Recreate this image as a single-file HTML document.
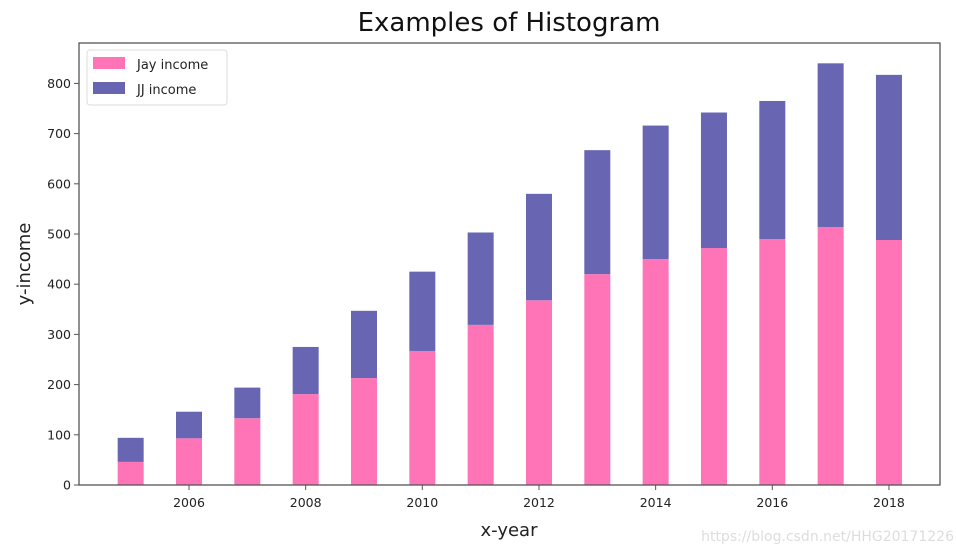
<!DOCTYPE html>
<html><head><meta charset="utf-8"><style>
body{margin:0;background:#fff;width:956px;height:552px;overflow:hidden;font-family:"DejaVu Sans","Liberation Sans",sans-serif}
</style></head><body>
<svg id="chart" width="956" height="552" xmlns="http://www.w3.org/2000/svg" font-family="DejaVu Sans, Liberation Sans, sans-serif">
<text x="509" y="31" font-size="26" text-anchor="middle" fill="#111">Examples of Histogram</text>
<text x="509" y="536" font-size="18" text-anchor="middle" fill="#222">x-year</text>
<text transform="translate(30,264) rotate(-90)" font-size="18" text-anchor="middle" fill="#222">y-income</text>
<g id="bars"></g>
<g id="axes"></g>
<g>
<rect x="87" y="50" width="140" height="55" rx="3" fill="#fff" stroke="#ddd"/>
<rect x="93" y="57" width="32" height="12" fill="#ff74b7"/>
<text x="137" y="69" font-size="13" fill="#222">Jay income</text>
<rect x="93" y="82" width="32" height="12" fill="#6865b3"/>
<text x="137" y="94" font-size="13" fill="#222">JJ income</text>
</g>
<text x="954" y="541" font-size="14" text-anchor="end" fill="#ddd">https://blog.csdn.net/HHG20171226</text>
</svg>
<script>
const years=[2005,2006,2007,2008,2009,2010,2011,2012,2013,2014,2015,2016,2017,2018];
const jayIncome=[46,93,133,181,213,267,319,368,420,450,472,490,514,488];
const jjIncome=[48,53,61,94,134,158,184,212,247,266,270,275,326,329];
const yTicks=[0,100,200,300,400,500,600,700,800];
const xTicks=[2006,2008,2010,2012,2014,2016,2018];
const NS="http://www.w3.org/2000/svg";
const L=79,R=940,T=43,B=485;
const xs=y=>189+(y-2006)*58.33;
const ys=v=>B-v*0.502;
const bw=26;
const bars=document.getElementById('bars'),axes=document.getElementById('axes');
function mk(tag,attrs,parent){const e=document.createElementNS(NS,tag);for(const k in attrs)e.setAttribute(k,attrs[k]);parent.appendChild(e);return e;}
years.forEach((yr,i)=>{
  const a=mk('rect',{x:xs(yr)-bw/2,y:ys(jayIncome[i]),width:bw,height:B-ys(jayIncome[i]),fill:'#ff74b7'},bars);
  
  
  const top=jayIncome[i]+jjIncome[i];
  const b=mk('rect',{x:xs(yr)-bw/2,y:ys(top),width:bw,height:ys(jayIncome[i])-ys(top),fill:'#6865b3'},bars);
  
  
});
const frame=mk('rect',{x:L,y:T,width:R-L,height:B-T,fill:'none',stroke:'#555','stroke-width':1.3},axes);


yTicks.forEach(v=>{
  mk('line',{x1:L-5,x2:L,y1:ys(v),y2:ys(v),stroke:'#555'},axes);
  const t=mk('text',{x:L-8,y:ys(v)+4.5,'font-size':12.5,'text-anchor':'end',fill:'#222'},axes);
  t.textContent=v;
  
  
});
xTicks.forEach(v=>{
  mk('line',{x1:xs(v),x2:xs(v),y1:B,y2:B+5,stroke:'#555'},axes);
  const t=mk('text',{x:xs(v),y:B+22,'font-size':12.5,'text-anchor':'middle',fill:'#222'},axes);
  t.textContent=v;
  
  
});
</script>
</body></html>
